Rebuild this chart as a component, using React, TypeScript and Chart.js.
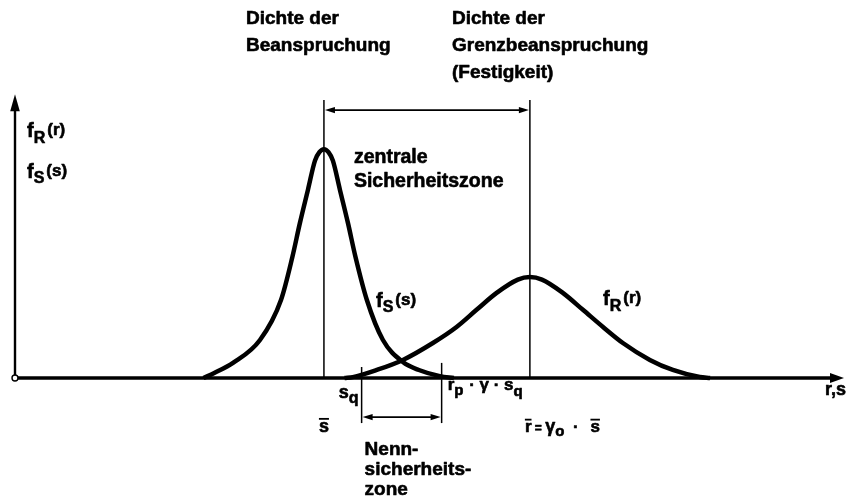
import React, { useEffect, useRef } from "react";
import { Chart, registerables } from "chart.js";

Chart.register(...registerables);

// Density of the load (stress) S
const stressX = [1.83, 1.935, 2.117, 2.379, 2.583, 2.694, 2.767, 2.845, 2.913, 2.956, 3.0, 3.044, 3.087, 3.155, 3.233, 3.306, 3.417, 3.573, 3.767, 3.922, 4.126, 4.262];
const stressY = [0, 0.022, 0.066, 0.166, 0.341, 0.53, 0.678, 0.823, 0.95, 0.987, 1.0, 0.987, 0.95, 0.823, 0.678, 0.53, 0.341, 0.166, 0.07, 0.035, 0.008, 0];

// Density of the limit load (strength) R
const strengthX = [3.2, 3.28, 3.512, 3.767, 4.058, 4.288, 4.482, 4.677, 4.883, 5.0, 5.117, 5.32, 5.515, 5.71, 5.903, 6.165, 6.388, 6.65, 6.75];
const strengthY = [0, 0.004, 0.035, 0.079, 0.153, 0.223, 0.298, 0.372, 0.43, 0.441, 0.43, 0.372, 0.298, 0.223, 0.153, 0.079, 0.035, 0.004, 0];

// Characteristic values on the r,s axis
const meanStress = 3.0; // s̄
const meanStrength = 5.0; // r̄ = γ0 · s̄
const stressQuantile = 3.366; // s_q
const strengthQuantile = 4.143; // r_p = γ · s_q

const X_MAX = 8.06;
const Y_MAX = 1.25;
const Y_ARROW_TIP = 1.24;
const GUIDE_TOP = 1.215;
const CENTRAL_DIM = 1.171;
const NOMINAL_DIM = -0.171;
const NOMINAL_TOP_S = 0.048;
const NOMINAL_TOP_R = 0.066;
const NOMINAL_BOTTOM = -0.197;

const FONT = '"Liberation Sans", Arial, Helvetica, sans-serif';

type Seg = { t: string; size?: number; dx?: number; dy?: number; bar?: boolean };

function richWidth(ctx: CanvasRenderingContext2D, segs: Seg[], base: number) {
  let w = 0;
  for (const s of segs) {
    ctx.font = `bold ${s.size ?? base}px ${FONT}`;
    w += (s.dx ?? 0) + ctx.measureText(s.t).width;
  }
  return w;
}

function drawRich(ctx: CanvasRenderingContext2D, x: number, y: number, segs: Seg[], base: number, align: "left" | "right" | "center" = "left") {
  const total = richWidth(ctx, segs, base);
  let cx = align === "left" ? x : align === "right" ? x - total : x - total / 2;
  ctx.textAlign = "left";
  ctx.textBaseline = "alphabetic";
  ctx.lineWidth = 0.6;
  ctx.lineJoin = "round";
  for (const s of segs) {
    const size = s.size ?? base;
    ctx.font = `bold ${size}px ${FONT}`;
    cx += s.dx ?? 0;
    const yy = y + (s.dy ?? 0);
    ctx.fillText(s.t, cx, yy);
    ctx.strokeText(s.t, cx, yy);
    const w = ctx.measureText(s.t).width;
    if (s.bar) ctx.fillRect(cx, yy - size * 0.78, w, 1.8);
    cx += w;
  }
}

function arrowHead(ctx: CanvasRenderingContext2D, x: number, y: number, angle: number, len: number, half: number) {
  ctx.save();
  ctx.translate(x, y);
  ctx.rotate(angle);
  ctx.beginPath();
  ctx.moveTo(0, 0);
  ctx.lineTo(-len, -half);
  ctx.lineTo(-len, half);
  ctx.closePath();
  ctx.fill();
  ctx.restore();
}

function seg(ctx: CanvasRenderingContext2D, x1: number, y1: number, x2: number, y2: number, w: number) {
  ctx.lineWidth = w;
  ctx.beginPath();
  ctx.moveTo(x1, y1);
  ctx.lineTo(x2, y2);
  ctx.stroke();
}

const diagramPlugin = {
  id: "reliabilityDiagram",
  afterDatasetsDraw(chart: any) {
    const ctx: CanvasRenderingContext2D = chart.ctx;
    const xs = chart.scales.x;
    const ys = chart.scales.y;
    const px = (v: number) => xs.getPixelForValue(v);
    const py = (v: number) => ys.getPixelForValue(v);
    ctx.save();
    ctx.strokeStyle = "#000";
    ctx.fillStyle = "#000";
    ctx.lineCap = "butt";

    const x0 = px(0);
    const y0 = py(0);

    // r,s axis
    const xEnd = px(X_MAX) - 1;
    seg(ctx, x0, y0, xEnd - 10, y0, 3.6);
    arrowHead(ctx, xEnd, y0, 0, 14, 5);

    // density axis
    const yTip = py(Y_ARROW_TIP);
    seg(ctx, x0, y0, x0, yTip + 12, 2.4);
    arrowHead(ctx, x0, yTip, -Math.PI / 2, 17, 4.8);

    // origin marker
    ctx.fillStyle = "#fff";
    ctx.lineWidth = 1.4;
    ctx.beginPath();
    ctx.arc(x0, y0, 3, 0, Math.PI * 2);
    ctx.fill();
    ctx.stroke();
    ctx.fillStyle = "#000";

    // mean value guides and central safety zone
    const xs1 = px(meanStress);
    const xr1 = px(meanStrength);
    seg(ctx, xs1, py(GUIDE_TOP), xs1, y0, 1.5);
    seg(ctx, xr1, py(GUIDE_TOP), xr1, y0, 1.5);
    const yc = py(CENTRAL_DIM);
    seg(ctx, xs1 + 8, yc, xr1 - 8, yc, 1.8);
    arrowHead(ctx, xs1 + 1, yc, Math.PI, 10, 3.2);
    arrowHead(ctx, xr1 - 1, yc, 0, 10, 3.2);

    // nominal safety zone
    const xq = px(stressQuantile);
    const xp = px(strengthQuantile);
    seg(ctx, xq, py(NOMINAL_TOP_S), xq, py(NOMINAL_BOTTOM), 1.5);
    seg(ctx, xp, py(NOMINAL_TOP_R), xp, py(NOMINAL_BOTTOM), 1.5);
    const yn = py(NOMINAL_DIM);
    seg(ctx, xq + 8, yn, xp - 8, yn, 1.8);
    arrowHead(ctx, xq + 1, yn, Math.PI, 10, 3.2);
    arrowHead(ctx, xp - 1, yn, 0, 10, 3.2);

    // headings
    drawRich(ctx, 246, 24, [{ t: "Dichte der" }], 19);
    drawRich(ctx, 246, 51, [{ t: "Beanspruchung" }], 19);
    drawRich(ctx, 452, 24, [{ t: "Dichte der" }], 19);
    drawRich(ctx, 452, 51, [{ t: "Grenzbeanspruchung" }], 19);
    drawRich(ctx, 452, 78, [{ t: "(Festigkeit)" }], 19);

    // axis labels
    drawRich(ctx, 27, 137, [{ t: "f", size: 20 }, { t: "R", size: 16, dy: 6 }, { t: "(r)", size: 17, dx: 2, dy: -2 }], 19);
    drawRich(ctx, 27, 178, [{ t: "f", size: 20 }, { t: "S", size: 16, dy: 5 }, { t: "(s)", size: 17, dx: 2, dy: -2 }], 19);
    drawRich(ctx, 846, 395, [{ t: "r,s" }], 18, "right");

    // curve labels
    drawRich(ctx, 376, 307, [{ t: "f", size: 20 }, { t: "S", size: 16, dy: 5 }, { t: "(s)", size: 17, dx: 2, dy: -2 }], 19);
    drawRich(ctx, 603, 305, [{ t: "f", size: 20 }, { t: "R", size: 16, dy: 6 }, { t: "(r)", size: 17, dx: 2, dy: -2 }], 19);

    drawRich(ctx, xs1 + 30, 163, [{ t: "zentrale" }], 19.5);
    drawRich(ctx, xs1 + 30, 187, [{ t: "Sicherheitszone" }], 19.5);

    // values on the r,s axis
    drawRich(ctx, xq - 3, 398, [{ t: "s" }, { t: "q", size: 16, dy: 5 }], 18, "right");
    drawRich(ctx, xs1, 432, [{ t: "s", bar: true }], 18, "center");
    drawRich(ctx, xp + 6, 390, [{ t: "r" }, { t: "p", size: 15, dy: 5 }, { t: " · γ · s", dx: 1 }, { t: "q", size: 15, dy: 6 }], 17);
    drawRich(ctx, xr1 - 5, 432, [{ t: "r", bar: true }, { t: " = ", size: 12 }, { t: "γ", size: 18 }, { t: "o", size: 15, dy: 4 }, { t: " · ", dx: 4 }, { t: "s", bar: true, dx: 7 }], 17);

    drawRich(ctx, xq + 3, 455, [{ t: "Nenn-" }], 19);
    drawRich(ctx, xq + 3, 475, [{ t: "sicherheits-" }], 19);
    drawRich(ctx, xq + 3, 495, [{ t: "zone" }], 19);

    ctx.restore();
  },
};

export default function App() {
  const canvasRef = useRef<HTMLCanvasElement | null>(null);

  useEffect(() => {
    const canvas = canvasRef.current;
    if (!canvas) return;
    const toPoints = (xsArr: number[], ysArr: number[]) => xsArr.map((x, i) => ({ x, y: ysArr[i] }));
    const chart = new Chart(canvas, {
      type: "line",
      data: {
        datasets: [
          {
            label: "fS(s)",
            data: toPoints(stressX, stressY),
            borderColor: "#000",
            borderWidth: 4.5,
            pointRadius: 0,
            cubicInterpolationMode: "monotone",
            fill: false,
            clip: false as any,
          },
          {
            label: "fR(r)",
            data: toPoints(strengthX, strengthY),
            borderColor: "#000",
            borderWidth: 4.5,
            pointRadius: 0,
            cubicInterpolationMode: "monotone",
            fill: false,
            clip: false as any,
          },
        ],
      },
      options: {
        responsive: false,
        animation: false,
        devicePixelRatio: 1,
        layout: { padding: { left: 15, right: 2, top: 92, bottom: 119 } },
        plugins: { legend: { display: false }, tooltip: { enabled: false }, title: { display: false } },
        events: [],
        scales: {
          x: { type: "linear", min: 0, max: X_MAX, display: false },
          y: { type: "linear", min: 0, max: Y_MAX, display: false },
        },
      },
      plugins: [diagramPlugin],
    } as any);
    return () => chart.destroy();
  }, []);

  return (
    <div style={{ position: "fixed", left: 0, top: 0, width: 847, height: 497, background: "#fff" }}>
      <canvas ref={canvasRef} width={847} height={497} style={{ display: "block" }} />
    </div>
  );
}
